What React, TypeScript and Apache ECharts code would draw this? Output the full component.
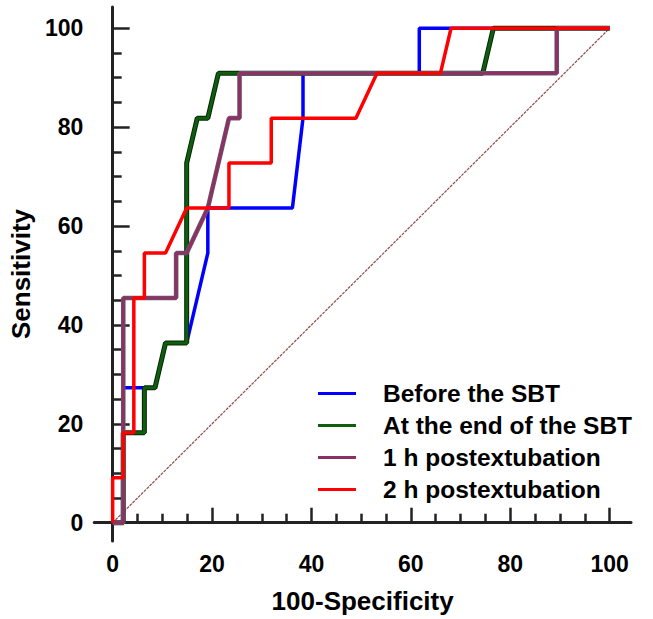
import React, { useEffect, useRef } from "react";
import * as echarts from "echarts";

const seriesNames = [
  "Before the SBT",
  "At the end of the SBT",
  "1 h postextubation",
  "2 h postextubation",
];
const seriesColors = ["#0000ff", "#0d5e0d", "#8c3068", "#ff0000"];
const outlineColors = ["", "#0a260a", "#6a5a64", ""];

// [100-Specificity, Sensitivity]
const beforeSBT: number[][] = [
  [0, 0], [2.13, 0], [2.13, 27.27], [8.51, 27.27], [10.64, 36.36], [14.89, 36.36],
  [19.15, 54.55], [19.15, 63.64], [36.17, 63.64], [38.3, 81.82], [38.3, 90.91],
  [61.7, 90.91], [61.7, 100], [100, 100],
];
const endSBT: number[][] = [
  [0, 0], [2.13, 0], [2.13, 18.18], [6.38, 18.18], [6.38, 27.27], [8.51, 27.27],
  [10.64, 36.36], [14.89, 36.36], [14.89, 72.73], [17.02, 81.82], [19.15, 81.82],
  [21.28, 90.91], [74.47, 90.91], [76.6, 100], [100, 100],
];
const post1h: number[][] = [
  [0, 0], [2.13, 0], [2.13, 45.45], [12.77, 45.45], [12.77, 54.55], [14.89, 54.55],
  [19.15, 63.64], [23.4, 81.82], [25.53, 81.82], [25.53, 90.91], [89.36, 90.91],
  [89.36, 100], [100, 100],
];
const post2h: number[][] = [
  [0, 0], [0, 9.09], [2.13, 9.09], [2.13, 18.18], [4.26, 18.18], [4.26, 45.45],
  [6.38, 45.45], [6.38, 54.55], [10.64, 54.55], [14.89, 63.64], [23.4, 63.64],
  [23.4, 72.73], [31.91, 72.73], [31.91, 81.82], [48.94, 81.82], [53.19, 90.91],
  [65.96, 90.91], [68.09, 100], [100, 100],
];
const diagonal: number[][] = [[0, 0], [100, 100]];

const majorTicks = [0, 20, 40, 60, 80, 100];
const minorTicks = [5, 10, 15, 25, 30, 35, 45, 50, 55, 65, 70, 75, 85, 90, 95];

const FONT = "'Liberation Sans', Arial, sans-serif";

export default function App() {
  const ref = useRef<HTMLDivElement>(null);
  useEffect(() => {
    if (!ref.current) return;
    const chart = echarts.init(ref.current, undefined, { renderer: "svg" });
    const axisMin = -3.7;
    const axisMax = 104.3;
    const mainAxis = (isX: boolean) => ({
      type: "value",
      min: axisMin,
      max: axisMax,
      position: isX ? "bottom" : "left",
      splitLine: { show: false },
      axisLine: { show: true, lineStyle: { color: "#222", width: 3 } },
      axisTick: {
        show: true,
        inside: true,
        length: isX ? 15 : 17,
        customValues: majorTicks,
        lineStyle: { color: "#222", width: 2.5 },
      },
      axisLabel: {
        show: true,
        customValues: majorTicks,
        color: "#000",
        fontFamily: FONT,
        fontWeight: "bold",
        fontSize: 23,
        margin: 11,
      },
      name: isX ? "100-Specificity" : "Sensitivity",
      nameLocation: "middle",
      nameGap: isX ? 47 : 54,
      nameTextStyle: {
        color: "#000",
        fontFamily: FONT,
        fontWeight: "bold",
        fontSize: 26,
      },
    });
    const minorAxis = (isX: boolean) => ({
      type: "value",
      min: axisMin,
      max: axisMax,
      position: isX ? "bottom" : "left",
      splitLine: { show: false },
      axisLine: { show: false },
      axisTick: {
        show: true,
        inside: true,
        length: 9,
        customValues: minorTicks,
        lineStyle: { color: "#222", width: 2.5 },
      },
      axisLabel: { show: false },
    });
    const mk = (name: string, data: number[][], color: string, width: number) => ({
      name,
      type: "line",
      data,
      showSymbol: false,
      symbol: "none",
      lineStyle: { color, width },
      itemStyle: { color },
      silent: true,
    });
    chart.setOption({
      animation: false,
      backgroundColor: "#ffffff",
      grid: { left: 94, right: 22, top: 7, bottom: 77, containLabel: false },
      xAxis: [mainAxis(true), minorAxis(true)],
      yAxis: [mainAxis(false), minorAxis(false)],
      legend: {
        orient: "vertical",
        left: 313,
        top: 376,
        icon: "rect",
        itemWidth: 38,
        itemHeight: 3,
        itemGap: 7,
        data: seriesNames,
        textStyle: {
          color: "#000",
          fontFamily: FONT,
          fontWeight: "bold",
          fontSize: 24.5,
          lineHeight: 23,
          padding: [0, 0, 0, 22],
        },
      },
      series: [
        {
          name: "diag",
          type: "line",
          data: diagonal,
          showSymbol: false,
          symbol: "none",
          lineStyle: { color: "#8e4a4a", width: 1.2, type: [3, 1] },
          silent: true,
        },
        mk(seriesNames[0], beforeSBT, seriesColors[0], 3.5),
        mk("outline2", endSBT, outlineColors[1], 5),
        mk(seriesNames[1], endSBT, seriesColors[1], 3),
        mk("outline3", post1h, outlineColors[2], 4.6),
        mk(seriesNames[2], post1h, seriesColors[2], 3),
        mk(seriesNames[3], post2h, seriesColors[3], 3.5),
      ],
    });
    return () => chart.dispose();
  }, []);
  return (
    <div
      ref={ref}
      style={{ position: "fixed", left: 0, top: 0, width: 653, height: 619, background: "#fff" }}
    />
  );
}
